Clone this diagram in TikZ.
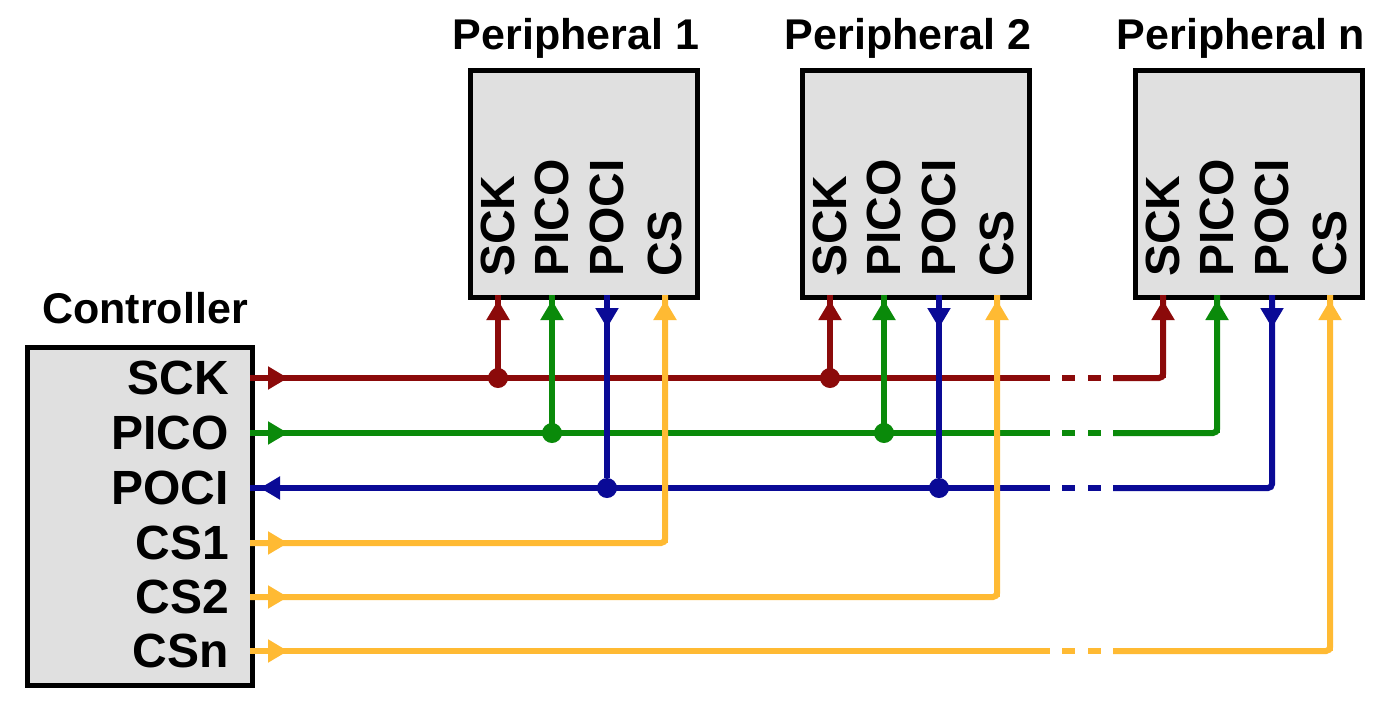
\documentclass[tikz,border=0pt]{standalone}
\usepackage{fontspec}
\setmainfont{Liberation Sans}
\usetikzlibrary{arrows.meta,calc}
\definecolor{sckc}{HTML}{8B0A0A}
\definecolor{picoc}{HTML}{0A8A0A}
\definecolor{pocic}{HTML}{0A0A96}
\definecolor{csc}{HTML}{FFBA33}
\tikzset{
  chip/.style={draw=black, line width=2.4pt, fill=black!12, inner sep=0pt},
  pinlbl/.style={font=\bfseries\fontsize{24}{24}\selectfont, anchor=east},
  vpin/.style={font=\bfseries\fontsize{24}{24}\selectfont, rotate=90, anchor=west},
  title/.style={font=\bfseries\fontsize{21.5}{21.5}\selectfont},
  wire/.style={line width=3pt, rounded corners=2pt},
  tip/.style={line width=3pt, -{Triangle[length=10pt,width=11pt]}},
  dot/.style={circle, fill, inner sep=0pt, minimum size=10pt},
  gapdash/.style={line width=3pt, dash pattern=on 0pt off 6pt on 6.5pt off 6.5pt on 6.5pt off 6pt}
}
\begin{document}
\begin{tikzpicture}[x=0.5pt,y=-0.5pt]
    \useasboundingbox (0,0) rectangle (1390,702);
    % Controller
    \node[chip, minimum width=112.5pt, minimum height=169pt, anchor=north west] (ctl) at (25,345) {};
    \node[title] (ctltitle) at (145,308) {Controller};
    \foreach \n/\t/\y in {sck/SCK/378, pico/PICO/433, poci/POCI/488, csa/CS1/543, csb/CS2/597, csn/CSn/651} {
        \node[pinlbl] (l\n) at (236,\y) {\t};
        \coordinate (c\n) at (250,\y);
    }
    % Peripherals
    \foreach \p/\x/\t in {a/468/Peripheral 1, b/800/Peripheral 2, n/1133/Peripheral n} {
        \node[chip, minimum width=113.5pt, minimum height=113.5pt, anchor=north west] (per\p) at (\x,68) {};
        \node[title] (title\p) at (\x+108,38) {\t};
        \foreach \s/\dx in {SCK/30, PICO/84, POCI/139, CS/197} {
            \node[vpin] (v\p\s) at (\x+\dx,284) {\s};
            \coordinate (\p-\s) at (\x+\dx,295);
        }
    }
    % Gap coordinates
    \foreach \n/\y in {sck/378, pico/433, poci/488, csn/651} {
        \coordinate (ga\n) at (1050,\y);
        \coordinate (gb\n) at (1113,\y);
    }
    % SCK
    \begin{scope}[sckc]
        \draw[wire] (csck) -- (gasck);
        \draw[gapdash] (gasck) -- (gbsck);
        \draw[wire] (gbsck) -| (n-SCK);
        \draw[tip] (csck) -- ++(38,0);
        \foreach \p in {a,b} {
            \node[dot] (jsck\p) at (\p-SCK |- csck) {};
            \draw[wire] (jsck\p) -- (\p-SCK);
        }
        \foreach \p in {a,b,n} {
            \draw[tip] (\p-SCK |- csck) -- ($(\p-SCK)+(0,5)$);
        }
    \end{scope}
    % PICO
    \begin{scope}[picoc]
        \draw[wire] (cpico) -- (gapico);
        \draw[gapdash] (gapico) -- (gbpico);
        \draw[wire] (gbpico) -| (n-PICO);
        \draw[tip] (cpico) -- ++(38,0);
        \foreach \p in {a,b} {
            \node[dot] (jpico\p) at (\p-PICO |- cpico) {};
            \draw[wire] (jpico\p) -- (\p-PICO);
        }
        \foreach \p in {a,b,n} {
            \draw[tip] (\p-PICO |- cpico) -- ($(\p-PICO)+(0,5)$);
        }
    \end{scope}
    % POCI
    \begin{scope}[pocic]
        \draw[wire] (cpoci) -- (gapoci);
        \draw[gapdash] (gapoci) -- (gbpoci);
        \draw[wire] (gbpoci) -| (n-POCI);
        \draw[tip] ($(cpoci)+(50,0)$) -- ++(-40,0);
        \foreach \p in {a,b} {
            \node[dot] (jpoci\p) at (\p-POCI |- cpoci) {};
            \draw[wire] (jpoci\p) -- (\p-POCI);
        }
        \foreach \p in {a,b,n} {
            \draw[tip] (\p-POCI) -- ++(0,33);
        }
    \end{scope}
    % CS
    \begin{scope}[csc]
        \draw[wire] (ccsa) -| (a-CS);
        \draw[wire] (ccsb) -| (b-CS);
        \draw[wire] (ccsn) -- (gacsn);
        \draw[gapdash] (gacsn) -- (gbcsn);
        \draw[wire] (gbcsn) -| (n-CS);
        \foreach \c in {csa,csb,csn} {
            \draw[tip] (c\c) -- ++(38,0);
        }
        \foreach \p/\c in {a/csa,b/csb,n/csn} {
            \draw[tip] (\p-CS |- c\c) -- ($(\p-CS)+(0,5)$);
        }
    \end{scope}
\end{tikzpicture}
\end{document}
